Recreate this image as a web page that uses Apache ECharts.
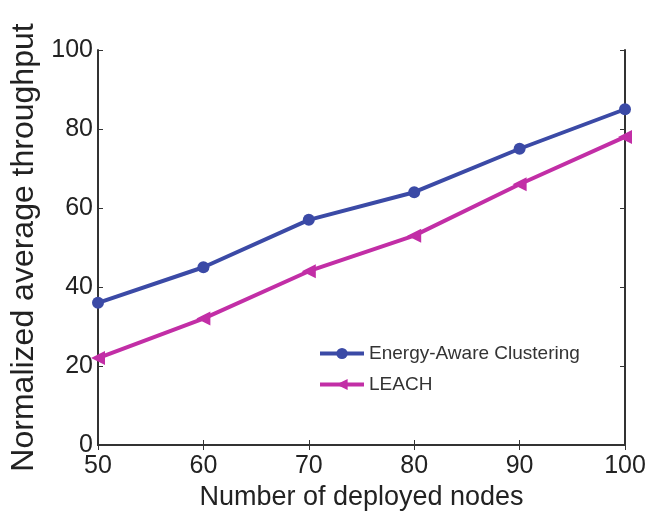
<!DOCTYPE html>
<html>
<head>
<meta charset="utf-8">
<script src="https://cdn.jsdelivr.net/npm/echarts@6/dist/echarts.min.js"></script>
<style>
  html, body { margin: 0; padding: 0; background: #fff; }
  #chart { width: 660px; height: 522px; }
</style>
</head>
<body>
<div id="chart"></div>
<script>
var nodes = [50, 60, 70, 80, 90, 100];
var energyAware = [36, 45, 57, 64, 75, 85];
var leach = [22, 32, 44, 53, 66, 78];

var font = 'Liberation Sans';
var axisColor = '#333';

function pairs(xs, ys) {
	var out = [];
	for (var i = 0; i < xs.length; i++) {
		out.push([xs[i], ys[i]]);
	}
	return out;
}

var chart = echarts.init(document.getElementById('chart'));
var option = {
	animation: false,
	textStyle: { fontFamily: font },
	grid: { left: 98, right: 35, top: 50, bottom: 77 },
	legend: {
		orient: 'vertical',
		left: 313,
		top: 339,
		itemWidth: 44,
		itemHeight: 14,
		itemGap: 12,
		lineStyle: { width: 4 },
		textStyle: { fontSize: 19, color: '#333', fontFamily: font },
		data: ['Energy-Aware Clustering', 'LEACH']
	},
	xAxis: [{
		type: 'value',
		min: 50, max: 100, interval: 10,
		name: 'Number of deployed nodes',
		nameLocation: 'middle',
		nameGap: 38,
		nameTextStyle: { fontSize: 27, color: '#222' },
		axisLine: { lineStyle: { color: axisColor, width: 2 } },
		axisTick: { inside: true, length: 5, lineStyle: { color: axisColor } },
		axisLabel: { fontSize: 25, color: '#222', margin: 9 },
		splitLine: { show: false }
	}, {
		type: 'value',
		position: 'top',
		min: 50, max: 100, interval: 10,
		axisLine: { show: true, lineStyle: { color: axisColor, width: 2 } },
		axisTick: { inside: true, length: 5, lineStyle: { color: axisColor } },
		axisLabel: { show: false },
		splitLine: { show: false }
	}],
	yAxis: [{
		type: 'value',
		min: 0, max: 100, interval: 20,
		name: 'Normalized average throughput',
		nameLocation: 'middle',
		nameGap: 48,
		nameTextStyle: { fontSize: 32, color: '#222' },
		axisLine: { show: true, lineStyle: { color: axisColor, width: 2 } },
		axisTick: { show: true, inside: true, length: 5, lineStyle: { color: axisColor } },
		axisLabel: { fontSize: 25, color: '#222', margin: 5 },
		splitLine: { show: false }
	}, {
		type: 'value',
		position: 'right',
		min: 0, max: 100, interval: 20,
		axisLine: { show: true, lineStyle: { color: axisColor, width: 2 } },
		axisTick: { show: true, inside: true, length: 5, lineStyle: { color: axisColor } },
		axisLabel: { show: false },
		splitLine: { show: false }
	}],
	series: [{
		name: 'Energy-Aware Clustering',
		type: 'line',
		data: pairs(nodes, energyAware),
		symbol: 'circle',
		symbolSize: 12,
		color: '#3b4aa6',
		lineStyle: { width: 4 },
		itemStyle: { color: '#3b4aa6' }
	}, {
		name: 'LEACH',
		type: 'line',
		data: pairs(nodes, leach),
		symbol: 'path://M0,5 L10,0 L10,10 Z',
		symbolSize: 14,
		color: '#c22ea6',
		lineStyle: { width: 4 },
		itemStyle: { color: '#c22ea6' }
	}]
};
chart.setOption(option);
</script>
</body>
</html>
